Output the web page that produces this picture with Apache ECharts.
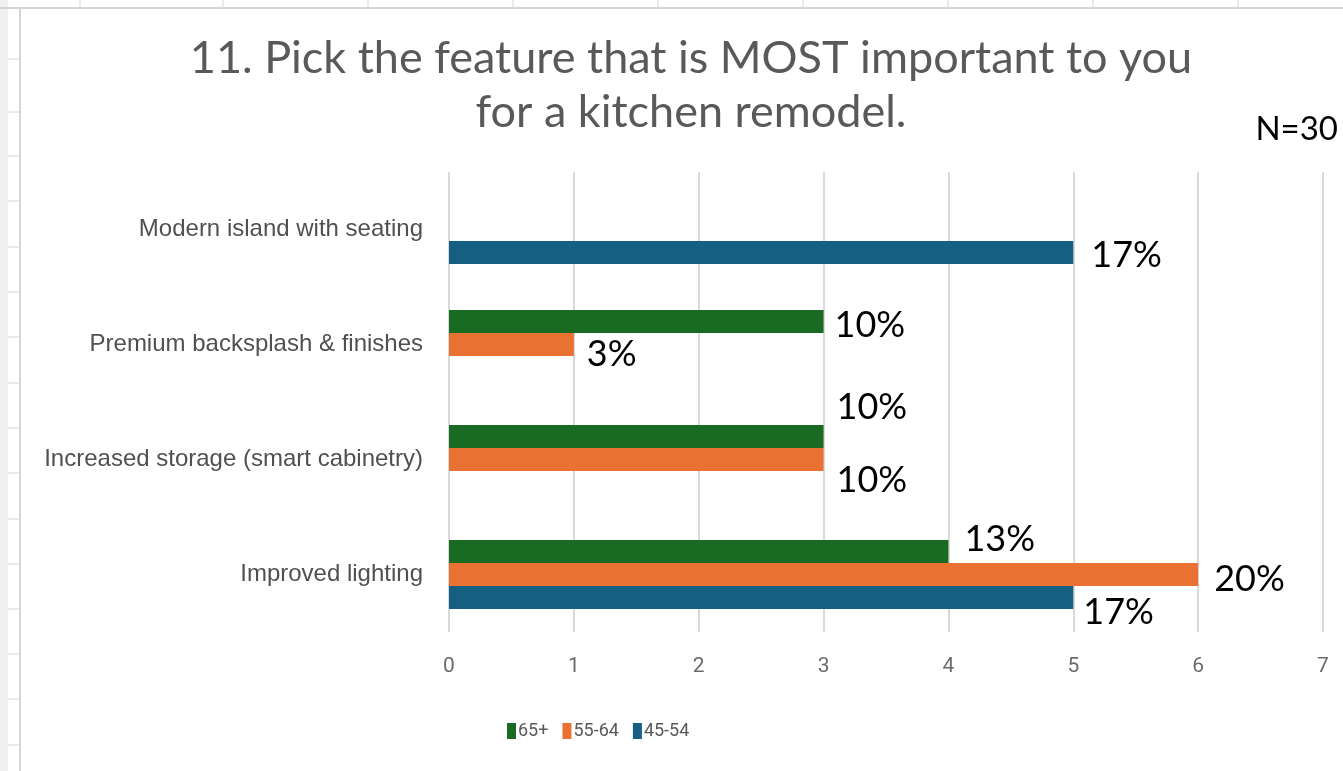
<!DOCTYPE html>
<html>
<head>
<meta charset="utf-8">
<script src="https://cdn.jsdelivr.net/npm/echarts@6/dist/echarts.min.js"></script>
<style>
  html, body { margin: 0; padding: 0; background: #fff; }
  #chart { width: 1343px; height: 771px; }
</style>
</head>
<body>
<div id="chart"></div>
<script>
// categories listed bottom -> top, like the Excel source
const categories = [
  'Improved lighting',
  'Increased storage (smart cabinetry)',
  'Premium backsplash & finishes',
  'Modern island with seating'
]
const seriesNames = ['65+', '55-64', '45-54']
const age65plus = [4, 3, 3, null]
const age55to64 = [6, 3, 1, null]
const age45to54 = [5, null, null, 5]
const xTicks = [0, 1, 2, 3, 4, 5, 6, 7]
const totalN = 30

const colors = ['#196B24', '#E97132', '#156082']

// hand-placed data label nudges, like in the workbook
const labelNudge = [
  [[16, -12], [13, -29], [11, 4], null],
  [[16, 5], [13, 21], [13, 10], null],
  [[10, 15], null, null, [18, 3]]
]

let chart = echarts.init(document.getElementById('chart'))

// spreadsheet lines behind the chart object
let sheet = []
;[80, 223, 368, 513, 658, 803, 948, 1093, 1238].forEach(x => {
  sheet.push({ type: 'line', shape: { x1: x, y1: 0, x2: x, y2: 8 }, style: { stroke: '#d4d4d4', lineWidth: 1 }, silent: true })
})
;[59, 112, 156, 201, 247, 292, 337, 383, 428, 473, 519, 564, 609, 654, 699, 745].forEach(y => {
  sheet.push({ type: 'line', shape: { x1: 8, y1: y, x2: 20, y2: y }, style: { stroke: '#d4d4d4', lineWidth: 1 }, silent: true })
})
sheet.push({ type: 'rect', shape: { x: 0, y: 0, width: 8, height: 771 }, style: { fill: '#f0f0f0' }, silent: true })
sheet.push({ type: 'line', shape: { x1: 0, y1: 8, x2: 1343, y2: 8 }, style: { stroke: '#d6d6d6', lineWidth: 2 }, silent: true })
sheet.push({ type: 'line', shape: { x1: 20, y1: 8, x2: 20, y2: 771 }, style: { stroke: '#d6d6d6', lineWidth: 2 }, silent: true })

function pct(v) {
  return Math.round(v / totalN * 100) + '%'
}

function buildData(values, nudges) {
  return values.map((v, i) => {
    if (v === null) return null
    return {
      value: v,
      label: { offset: nudges[i] }
    }
  })
}

let seriesValues = [age65plus, age55to64, age45to54]
const narrow = "Roboto, 'Liberation Sans', sans-serif"

let option = {
  animation: false,
  backgroundColor: '#fff',
  graphic: sheet.concat([
    {
      type: 'text',
      x: 691,
      y: 31,
      style: {
        text: '11. Pick the feature that is MOST important to you\nfor a kitchen remodel.',
        fill: '#595959',
        font: '45px Lato',
        textAlign: 'center',
        lineHeight: 54
      }
    },
    {
      type: 'text',
      x: 1338,
      y: 129,
      style: {
        text: 'N=' + totalN,
        fill: '#000',
        font: '33px Lato',
        textAlign: 'right',
        textVerticalAlign: 'middle'
      }
    }
  ]),
  legend: {
    data: seriesNames,
    left: 502,
    top: 717,
    itemWidth: 9,
    itemHeight: 16,
    itemGap: 14,
    icon: 'rect',
    textStyle: {
      color: '#595959',
      fontSize: 18,
      fontFamily: narrow,
      padding: [0, 0, 0, -3]
    }
  },
  grid: {
    left: 449,
    right: 20,
    top: 172,
    bottom: 139,
    containLabel: false
  },
  xAxis: {
    type: 'value',
    min: xTicks[0],
    max: xTicks[xTicks.length - 1],
    interval: 1,
    axisLine: { show: false },
    axisTick: { show: false },
    splitLine: { lineStyle: { color: '#d9d9d9', width: 2 } },
    axisLabel: {
      color: '#6b6b6b',
      fontSize: 21,
      fontFamily: narrow,
      margin: 24
    }
  },
  yAxis: {
    type: 'category',
    data: categories,
    axisLine: { show: false },
    axisTick: { show: false },
    axisLabel: {
      color: '#505050',
      fontSize: 24,
      fontFamily: "'Liberation Sans', sans-serif",
      margin: 26
    }
  },
  series: seriesNames.map((name, k) => {
    return {
      name: name,
      type: 'bar',
      barWidth: 23,
      barGap: '0%',
      itemStyle: { color: colors[k] },
      label: {
        show: true,
        position: 'right',
        distance: 0,
        color: '#000',
        fontSize: 36,
        fontFamily: 'Lato',
        formatter: function(p) {
          return pct(p.value)
        }
      },
      data: buildData(seriesValues[k], labelNudge[k])
    }
  })
}
chart.setOption(option)
</script>
</body>
</html>
